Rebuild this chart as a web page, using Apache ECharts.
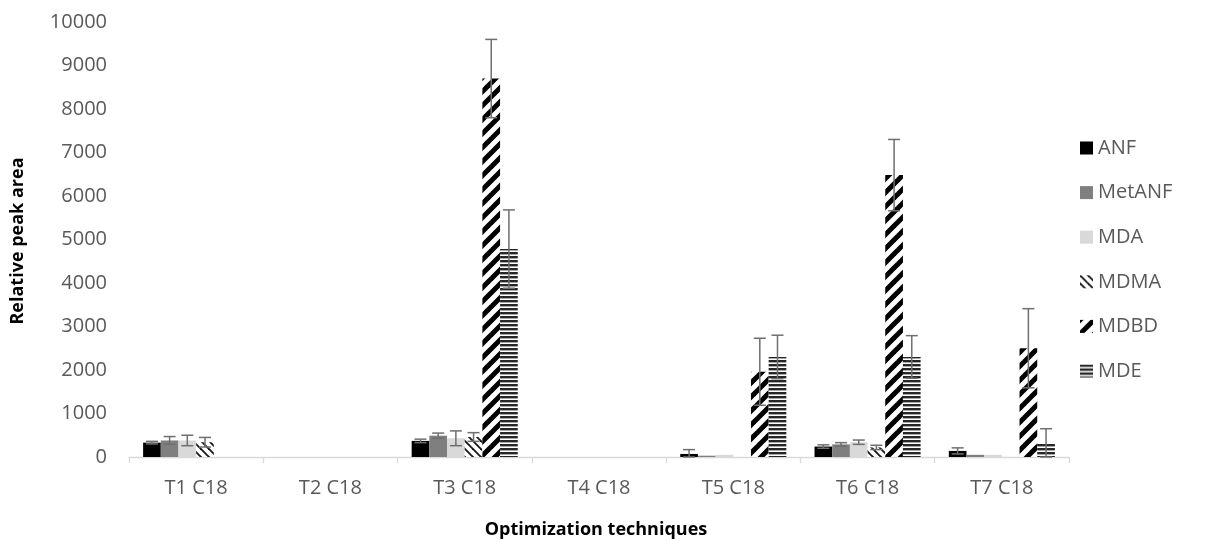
<!DOCTYPE html>
<html>
<head>
<meta charset="utf-8">
<script src="https://cdn.jsdelivr.net/npm/echarts@6/dist/echarts.min.js"></script>
<style>
  html, body { margin: 0; padding: 0; background: #ffffff; }
  #chart { width: 1210px; height: 541px; }
</style>
</head>
<body>
<div id="chart"></div>
<script>
// Categories and series
const categories = ['T1 C18', 'T2 C18', 'T3 C18', 'T4 C18', 'T5 C18', 'T6 C18', 'T7 C18'];
const seriesNames = ['ANF', 'MetANF', 'MDA', 'MDMA', 'MDBD', 'MDE'];

// Mean relative peak areas
const anf    = [330, 0, 370, 0, 70, 240, 140];
const metanf = [380, 0, 490, 0, 30, 290, 50];
const mda    = [380, 0, 430, 0, 50, 340, 50];
const mdma   = [340, 0, 460, 0, 0, 220, 0];
const mdbd   = [0, 0, 8700, 0, 1960, 6480, 2500];
const mde    = [0, 0, 4780, 0, 2300, 2300, 310];

// Standard deviations (error bars)
const anfErr    = [30, 0, 40, 0, 100, 40, 70];
const metanfErr = [90, 0, 60, 0, 0, 40, 0];
const mdaErr    = [120, 0, 170, 0, 0, 50, 0];
const mdmaErr   = [110, 0, 100, 0, 0, 50, 0];
const mdbdErr   = [0, 0, 900, 0, 770, 820, 910];
const mdeErr    = [0, 0, 900, 0, 500, 490, 340];

// Value axis ticks
const yMin = 0;
const yMax = 10000;
const yStep = 1000;

const values = [anf, metanf, mda, mdma, mdbd, mde];
const errors = [anfErr, metanfErr, mdaErr, mdmaErr, mdbdErr, mdeErr];

// ---- fill patterns ----
function makeTile(w, h, draw) {
  const c = document.createElement('canvas');
  c.width = w; c.height = h;
  const ctx = c.getContext('2d');
  ctx.fillStyle = '#ffffff';
  ctx.fillRect(0, 0, w, h);
  draw(ctx, w, h);
  return { image: c, repeat: 'repeat' };
}
// wide upward diagonal "/"
const upDiag = makeTile(14, 14, (ctx, s) => {
  ctx.strokeStyle = '#000000';
  ctx.lineWidth = 5;
  ctx.lineCap = 'square';
  [[0, s, s, 0], [-2, 2, 2, -2], [s - 2, s + 2, s + 2, s - 2]].forEach(([a, b, c, d]) => {
    ctx.beginPath(); ctx.moveTo(a, b); ctx.lineTo(c, d); ctx.stroke();
  });
});
// downward diagonal "\"
const downDiag = makeTile(8, 8, (ctx, s) => {
  ctx.strokeStyle = '#1a1a1a';
  ctx.lineWidth = 1.9;
  [[0, 0, s, s], [-2, s - 2, 2, s + 2], [s - 2, -2, s + 2, 2]].forEach(([a, b, c, d]) => {
    ctx.beginPath(); ctx.moveTo(a, b); ctx.lineTo(c, d); ctx.stroke();
  });
});
// narrow horizontal lines
const horiz = makeTile(8, 4, (ctx, w) => {
  ctx.fillStyle = '#262626';
  ctx.fillRect(0, 0, w, 2.4);
});

const fills = ['#000000', '#7f7f7f', '#d9d9d9', downDiag, upDiag, horiz];

const FONT = "'Open Sans', 'Noto Sans', sans-serif";
const TEXT = '#595959';
const CAT_GAP = 0.21;

const barSeries = seriesNames.map((name, i) => ({
  name: name,
  type: 'bar',
  barGap: '0%',
  barCategoryGap: (CAT_GAP * 100) + '%',
  itemStyle: { color: fills[i] },
  data: values[i]
}));

// error bar items: [category index, mean, sd, series index]
const errData = [];
values.forEach((arr, s) => {
  arr.forEach((v, c) => {
    if (errors[s][c] > 0) errData.push([c, v, errors[s][c], s]);
  });
});

const errSeries = {
  type: 'custom',
  name: 'sd',
  silent: true,
  z: 5,
  data: errData,
  renderItem: function (params, api) {
    const c = api.value(0), v = api.value(1), e = api.value(2), s = api.value(3);
    const band = api.size([1, 0])[0];
    const group = band * (1 - CAT_GAP);
    const bw = group / seriesNames.length;
    const center = api.coord([c, v])[0] - group / 2 + (s + 0.5) * bw;
    const yTop = api.coord([c, v + e])[1];
    const yBot = api.coord([c, Math.max(v - e, 0)])[1];
    const cap = 6;
    const st = { stroke: '#6f6f6f', lineWidth: 1.5 };
    return {
      type: 'group',
      children: [
        { type: 'line', shape: { x1: center, y1: yTop, x2: center, y2: yBot }, style: st },
        { type: 'line', shape: { x1: center - cap, y1: yTop, x2: center + cap, y2: yTop }, style: st },
        { type: 'line', shape: { x1: center - cap, y1: yBot, x2: center + cap, y2: yBot }, style: st }
      ]
    };
  }
};

const chart = echarts.init(document.getElementById('chart'), null, { renderer: 'canvas' });
chart.setOption({
  animation: false,
  backgroundColor: '#ffffff',
  grid: { left: 129, right: 141, top: 22, bottom: 84, containLabel: false },
  legend: {
    orient: 'vertical',
    left: 1075,
    top: 133,
    itemWidth: 13,
    itemHeight: 13,
    itemGap: 24.6,
    icon: 'rect',
    data: seriesNames,
    textStyle: { fontFamily: FONT, fontSize: 20, color: TEXT, lineHeight: 20 }
  },
  xAxis: {
    type: 'category',
    data: categories,
    axisLine: { lineStyle: { color: '#d9d9d9', width: 1.3 } },
    axisTick: { show: true, length: 6, lineStyle: { color: '#d9d9d9', width: 1.3 } },
    axisLabel: { fontFamily: FONT, fontSize: 20, color: TEXT, margin: 21 },
    splitLine: { show: false }
  },
  yAxis: {
    type: 'value',
    min: yMin,
    max: yMax,
    interval: yStep,
    axisLine: { show: false },
    axisTick: { show: false },
    splitLine: { show: false },
    axisLabel: { fontFamily: FONT, fontSize: 20, color: TEXT, margin: 22, formatter: (v) => String(v) }
  },
  graphic: [
    {
      type: 'text', x: 596, y: 530,
      style: { text: 'Optimization techniques', font: "bold 18px " + FONT, fill: '#000000', align: 'center', verticalAlign: 'middle' }
    },
    {
      type: 'text', x: 18, y: 241, rotation: Math.PI / 2,
      style: { text: 'Relative peak area', font: "bold 18px " + FONT, fill: '#000000', align: 'center', verticalAlign: 'middle' }
    }
  ],
  series: barSeries.concat([errSeries])
});
</script>
</body>
</html>
